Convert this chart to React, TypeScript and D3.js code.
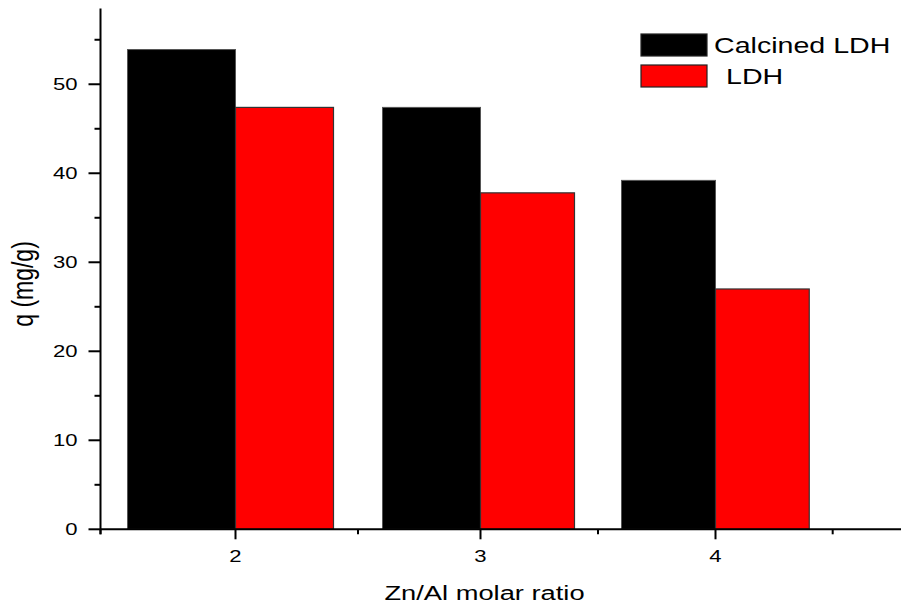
import React from "react";
import * as d3 from "d3";

const categories = [2, 3, 4];
const calcinedLDH = [53.9, 47.4, 39.2];
const ldh = [47.4, 37.8, 27.0];
const yMajorTicks = [0, 10, 20, 30, 40, 50];
const yMinorTicks = [5, 15, 25, 35, 45, 55];
const xMinorTicks = [1.5, 2.5, 3.5, 4.5];
const seriesNames = ["Calcined LDH", "LDH"];
const seriesColors = ["#000000", "#ff0000"];

const W = 901;
const H = 606;
const SX = 1.3;
const FONT = "'Liberation Sans', Arial, sans-serif";

export default function App() {
  // the scanned original is slightly non-uniform horizontally; a polylinear scale follows it
  const x = d3
    .scaleLinear()
    .domain([1.5, 2, 3, 4, 4.8])
    .range([100.5, 235.5, 480.5, 715.5, 903]);
  const y = d3.scaleLinear().domain([0, 58.5]).range([529.3, 8.6]);
  const y0 = y(0);
  const bw = 0.4;

  return (
    <svg
      width={W}
      height={H}
      style={{ position: "absolute", left: 0, top: 0, background: "#fff" }}
      fontFamily={FONT}
    >
      <rect x={0} y={0} width={W} height={H} fill="#fff" />
      {/* bars */}
      {categories.map((c, i) => (
        <g key={c}>
          <rect
            x={x(c - bw)}
            y={y(calcinedLDH[i])}
            width={x(c) - x(c - bw)}
            height={y0 - y(calcinedLDH[i])}
            fill={seriesColors[0]}
            stroke="#555"
            strokeWidth={1}
          />
          <rect
            x={x(c)}
            y={y(ldh[i])}
            width={x(c + bw) - x(c)}
            height={y0 - y(ldh[i])}
            fill={seriesColors[1]}
            stroke="#333"
            strokeWidth={1.2}
          />
        </g>
      ))}
      {/* axes */}
      <line x1={x(1.5)} x2={x(4.8)} y1={y0} y2={y0} stroke="#000" strokeWidth={2} />
      <line x1={x(1.5)} x2={x(1.5)} y1={y0 + 5} y2={y(58.5)} stroke="#000" strokeWidth={2} />
      {yMajorTicks.map((t) => (
        <g key={"ym" + t}>
          <line x1={x(1.5) - 12} x2={x(1.5)} y1={y(t)} y2={y(t)} stroke="#000" strokeWidth={2} />
          <text
            transform={`translate(${77.5},${y(t)}) scale(${SX},1)`}
            textAnchor="end"
            dominantBaseline="central"
            fontSize={17}
          >
            {t}
          </text>
        </g>
      ))}
      {yMinorTicks.map((t) => (
        <line key={"yn" + t} x1={x(1.5) - 6} x2={x(1.5)} y1={y(t)} y2={y(t)} stroke="#000" strokeWidth={2} />
      ))}
      {categories.map((c) => (
        <g key={"xm" + c}>
          <line x1={x(c)} x2={x(c)} y1={y0} y2={y0 + 10} stroke="#000" strokeWidth={2} />
          <text
            transform={`translate(${x(c)},${556}) scale(${SX},1)`}
            textAnchor="middle"
            dominantBaseline="central"
            fontSize={17}
          >
            {c}
          </text>
        </g>
      ))}
      {xMinorTicks.map((t) => (
        <line key={"xn" + t} x1={x(t)} x2={x(t)} y1={y0} y2={y0 + 5} stroke="#000" strokeWidth={2} />
      ))}
      {/* axis titles */}
      <text
        transform={`translate(${x(3) + 4},${600}) scale(${SX},1)`}
        textAnchor="middle"
        fontSize={21}
      >
        Zn/Al molar ratio
      </text>
      <text
        transform={`translate(${33},${284}) rotate(-90) scale(1,${SX})`}
        textAnchor="middle"
        fontSize={23}
      >
        q (mg/g)
      </text>
      {/* legend */}
      {seriesNames.map((name, i) => (
        <g key={name}>
          <rect
            x={641}
            y={34 + i * 31}
            width={66}
            height={22}
            fill={seriesColors[i]}
            stroke="#222"
            strokeWidth={1.2}
          />
          <text
            transform={`translate(${i === 0 ? 714 : 726},${45 + i * 31}) scale(${SX},1)`}
            dominantBaseline="central"
            fontSize={22}
          >
            {name}
          </text>
        </g>
      ))}
    </svg>
  );
}
